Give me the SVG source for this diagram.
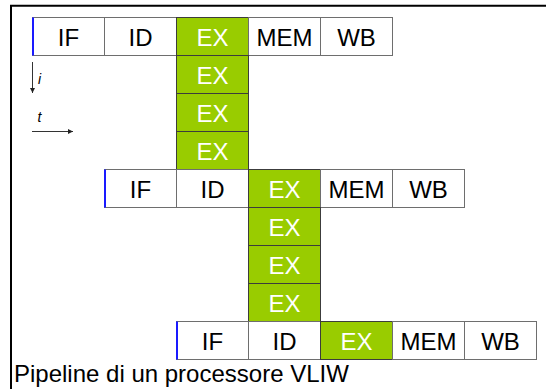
<svg xmlns="http://www.w3.org/2000/svg" width="546" height="389" viewBox="0 0 546 389">
<defs>
<style>
.w{fill:#ffffff;stroke:#6e6e6e;stroke-width:1}
.g{fill:#99cc00;stroke:#3c3c3c;stroke-width:1}
.tb{font-family:"Liberation Sans",Arial,sans-serif;font-size:24px;fill:#000;text-anchor:middle}
.tw{font-family:"Liberation Sans",Arial,sans-serif;font-size:24px;fill:#fff;text-anchor:middle}
.blue{stroke:#1a1aff;stroke-width:2}
.ax{stroke:#333;stroke-width:1;fill:none}
.lab{font-family:"Liberation Sans",Arial,sans-serif;font-size:14px;font-style:italic;fill:#000}
</style>
<marker id="ah" viewBox="0 0 10 10" refX="10" refY="5" markerWidth="5" markerHeight="5" markerUnits="userSpaceOnUse" orient="auto">
<path d="M0,0 L10,5 L0,10 z" fill="#222"/>
</marker>
</defs>
<rect width="546" height="389" fill="#fff"/>
<path d="M11,389 V5.8 H546" fill="none" stroke="#000" stroke-width="2"/>

<g id="row1">
<g id="r1-if"><rect class="w" x="32.5" y="17.5" width="72" height="38"/><text class="tb" x="68.5" y="45.8">IF</text></g>
<g id="r1-id"><rect class="w" x="104.5" y="17.5" width="72" height="38"/><text class="tb" x="140.5" y="45.8">ID</text></g>
<g id="r1-ex1"><rect class="g" x="176.5" y="17.5" width="72" height="38"/><text class="tw" x="212.5" y="45.8">EX</text></g>
<g id="r1-mem"><rect class="w" x="248.5" y="17.5" width="72" height="38"/><text class="tb" x="284.5" y="45.8">MEM</text></g>
<g id="r1-wb"><rect class="w" x="320.5" y="17.5" width="72" height="38"/><text class="tb" x="356.5" y="45.8">WB</text></g>
<g id="r1-ex2"><rect class="g" x="176.5" y="55.5" width="72" height="38"/><text class="tw" x="212.5" y="83.8">EX</text></g>
<g id="r1-ex3"><rect class="g" x="176.5" y="93.5" width="72" height="38"/><text class="tw" x="212.5" y="121.8">EX</text></g>
<g id="r1-ex4"><rect class="g" x="176.5" y="131.5" width="72" height="38"/><text class="tw" x="212.5" y="159.8">EX</text></g>
<line class="blue" x1="33" y1="17.5" x2="33" y2="55.5"/>
</g>

<g id="row2">
<g id="r2-if"><rect class="w" x="104.5" y="169.5" width="72" height="38"/><text class="tb" x="140.5" y="197.8">IF</text></g>
<g id="r2-id"><rect class="w" x="176.5" y="169.5" width="72" height="38"/><text class="tb" x="212.5" y="197.8">ID</text></g>
<g id="r2-ex1"><rect class="g" x="248.5" y="169.5" width="72" height="38"/><text class="tw" x="284.5" y="197.8">EX</text></g>
<g id="r2-mem"><rect class="w" x="320.5" y="169.5" width="72" height="38"/><text class="tb" x="356.5" y="197.8">MEM</text></g>
<g id="r2-wb"><rect class="w" x="392.5" y="169.5" width="72" height="38"/><text class="tb" x="428.5" y="197.8">WB</text></g>
<g id="r2-ex2"><rect class="g" x="248.5" y="207.5" width="72" height="38"/><text class="tw" x="284.5" y="235.8">EX</text></g>
<g id="r2-ex3"><rect class="g" x="248.5" y="245.5" width="72" height="38"/><text class="tw" x="284.5" y="273.8">EX</text></g>
<g id="r2-ex4"><rect class="g" x="248.5" y="283.5" width="72" height="38"/><text class="tw" x="284.5" y="311.8">EX</text></g>
<line class="blue" x1="105" y1="169.5" x2="105" y2="207.5"/>
</g>

<g id="row3">
<g id="r3-if"><rect class="w" x="176.5" y="321.5" width="72" height="38"/><text class="tb" x="212.5" y="349.8">IF</text></g>
<g id="r3-id"><rect class="w" x="248.5" y="321.5" width="72" height="38"/><text class="tb" x="284.5" y="349.8">ID</text></g>
<g id="r3-ex1"><rect class="g" x="320.5" y="321.5" width="72" height="38"/><text class="tw" x="356.5" y="349.8">EX</text></g>
<g id="r3-mem"><rect class="w" x="392.5" y="321.5" width="72" height="38"/><text class="tb" x="428.5" y="349.8">MEM</text></g>
<g id="r3-wb"><rect class="w" x="464.5" y="321.5" width="72" height="38"/><text class="tb" x="500.5" y="349.8">WB</text></g>
<line class="blue" x1="177" y1="321.5" x2="177" y2="359.5"/>
</g>

<g id="connectors">
<line class="ax" x1="32.5" y1="62" x2="32.5" y2="93" marker-end="url(#ah)"/>
<line class="ax" x1="32" y1="131.5" x2="73" y2="131.5" marker-end="url(#ah)"/>
</g>
<g id="labels">
<text class="lab" x="38" y="83.5">i</text>
<text class="lab" x="37.5" y="122">t</text>
<text x="14" y="382" font-family="'Liberation Sans',Arial,sans-serif" font-size="24px" fill="#000">Pipeline di un processore VLIW</text>
</g>
</svg>
